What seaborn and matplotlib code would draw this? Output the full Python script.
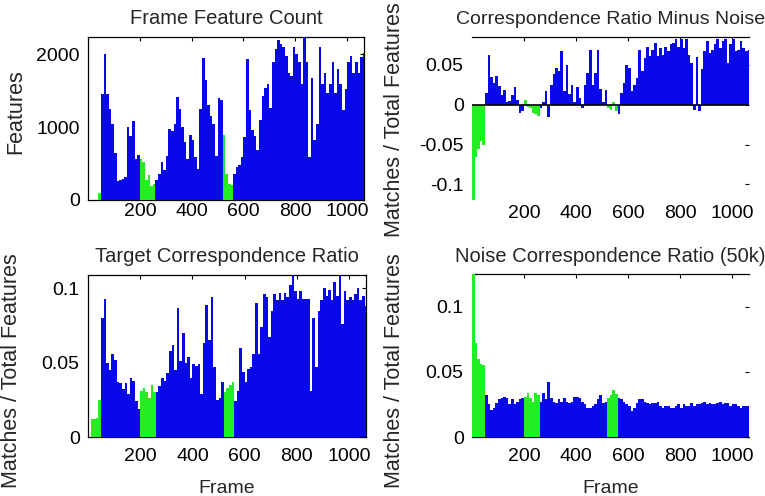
import numpy as np
import pandas as pd
import matplotlib
matplotlib.use("Agg")
import matplotlib.pyplot as plt
import seaborn as sns

# ---------------- data (10-frame bins, value read per bin start) ----------------
frame_bins = list(range(0, 1070, 10))
green_ranges = [(0, 50), (200, 260), (520, 560)]

feature_count = [
    0, 0, 0, 0, 90,
    1450, 2000, 1450, 1250, 1050,
    650, 260, 270, 290, 310,
    1000, 880, 1080, 560, 620,
    560, 520, 270, 340, 190,
    220, 270, 360, 520, 410,
    600, 980, 950, 1050, 1420,
    1250, 1000, 800, 560, 900,
    820, 590, 420, 1250, 1950,
    1650, 1300, 1150, 1050, 600,
    1400, 1380, 890, 360, 220,
    200, 360, 450, 480, 590,
    870, 1935, 1240, 960, 880,
    690, 1100, 1430, 1540, 1600,
    1260, 1890, 2070, 2200, 2150,
    2100, 1980, 1750, 1700, 2100,
    2000, 1890, 1600, 2240, 1890,
    590, 1680, 820, 1050, 2100,
    1600, 1750, 1470, 1600, 1890,
    1470, 1800, 1600, 1240, 1520,
    1890, 1980, 1750, 1890, 1750,
    1960, 2020,
]

ratio_minus_noise = [
    -0.120, -0.066, -0.055, -0.045, -0.050,
    0.015, 0.062, 0.035, 0.027, 0.036,
    0.023, 0.012, 0.019, 0.004, 0.005,
    0.012, 0.022, 0.006, -0.010, -0.008,
    0.006, -0.003, -0.004, -0.010, -0.012,
    -0.014, -0.004, 0.003, 0.017, -0.015,
    0.025, 0.038, 0.046, 0.042, 0.067,
    0.017, 0.050, 0.013, 0.025, 0.004,
    0.022, 0.008, -0.004, 0.025, 0.040,
    0.069, 0.025, 0.040, 0.069, 0.020,
    0.004, 0.019, -0.004, -0.006, 0.004,
    -0.008, -0.012, 0.015, 0.027, 0.050,
    0.046, 0.017, 0.025, 0.034, 0.069,
    0.042, 0.059, 0.073, 0.061, 0.069,
    0.078, 0.061, 0.071, 0.063, 0.073,
    0.067, 0.076, 0.078, 0.083, 0.073,
    0.082, 0.071, 0.083, 0.063, 0.052,
    -0.007, 0.060, -0.008, 0.045, 0.067,
    0.080, 0.065, 0.069, 0.076, 0.083,
    0.071, 0.080, 0.083, 0.052, 0.076,
    0.083, 0.067, 0.069, 0.080, 0.071,
    0.067, 0.069,
]

target_ratio = [
    0.000, 0.012, 0.012, 0.013, 0.025,
    0.080, 0.093, 0.050, 0.045, 0.056,
    0.052, 0.037, 0.036, 0.032, 0.036,
    0.029, 0.040, 0.038, 0.024, 0.019,
    0.031, 0.033, 0.030, 0.026, 0.035,
    0.030, 0.030, 0.034, 0.040, 0.038,
    0.043, 0.058, 0.062, 0.045, 0.087,
    0.051, 0.070, 0.050, 0.054, 0.040,
    0.049, 0.048, 0.049, 0.029, 0.063,
    0.089, 0.065, 0.094, 0.047, 0.025,
    0.026, 0.037, 0.030, 0.033, 0.035,
    0.037, 0.024, 0.031, 0.060, 0.044,
    0.037, 0.046, 0.047, 0.056, 0.090,
    0.056, 0.074, 0.096, 0.094, 0.067,
    0.085, 0.096, 0.092, 0.097, 0.092,
    0.097, 0.094, 0.102, 0.109, 0.098,
    0.093, 0.098, 0.093, 0.093, 0.093,
    0.031, 0.080, 0.047, 0.085, 0.092,
    0.100, 0.095, 0.099, 0.092, 0.104,
    0.095, 0.109, 0.076, 0.098, 0.092,
    0.094, 0.092, 0.096, 0.100, 0.092,
    0.095, 0.088,
]

noise_ratio = [
    0.125, 0.072, 0.060, 0.056, 0.055,
    0.032, 0.025, 0.021, 0.022, 0.026,
    0.029, 0.030, 0.031, 0.030, 0.025,
    0.029, 0.025, 0.027, 0.029, 0.030,
    0.031, 0.034, 0.030, 0.027, 0.034,
    0.032, 0.027, 0.034, 0.029, 0.042,
    0.030, 0.027, 0.026, 0.029, 0.027,
    0.030, 0.027, 0.026, 0.027, 0.031,
    0.031, 0.030, 0.027, 0.025, 0.022,
    0.022, 0.024, 0.025, 0.029, 0.032,
    0.026, 0.027, 0.030, 0.032, 0.036,
    0.033, 0.030, 0.029, 0.027, 0.025,
    0.024, 0.020, 0.022, 0.026, 0.029,
    0.029, 0.027, 0.026, 0.025, 0.026,
    0.026, 0.027, 0.024, 0.022, 0.024,
    0.024, 0.022, 0.022, 0.024, 0.025,
    0.022, 0.025, 0.024, 0.024, 0.026,
    0.024, 0.025, 0.025, 0.026, 0.027,
    0.025, 0.026, 0.025, 0.025, 0.026,
    0.027, 0.025, 0.026, 0.026, 0.024,
    0.025, 0.025, 0.024, 0.022, 0.024,
    0.024, 0.024,
]

titles = ["Frame Feature Count", "Correspondence Ratio Minus Noise",
          "Target Correspondence Ratio", "Noise Correspondence Ratio (50k)"]
ylabels = ["Features", "Matches / Total Features",
           "Matches / Total Features", "Matches / Total Features"]
x_ticks = [200, 400, 600, 800, 1000]
x_ticklabels = ["200", "400", "600", "800", "1000"]
y_ticks = [[0, 1000, 2000], [-0.1, -0.05, 0, 0.05], [0, 0.05, 0.1], [0, 0.05, 0.1]]
y_ticklabels = [["0", "1000", "2000"], ["-0.1", "-0.05", "0", "0.05"],
                ["0", "0.05", "0.1"], ["0", "0.05", "0.1"]]

# ---------------- styling ----------------
sns.set_style("white")
plt.rcParams["font.family"] = ["Liberation Sans", "DejaVu Sans"]

BLUE = "#0808e8"
GREEN = "#22ee22"

def segment(f):
    for a, b in green_ranges:
        if a <= f < b:
            return "target"
    return "other"

bin_width = frame_bins[1] - frame_bins[0]

fig = plt.figure(figsize=(7.65, 4.96), dpi=100)
W, H = 765.0, 496.0
# (left, top, right, bottom) in pixels
boxes = [(88, 37, 364, 200), (472, 37, 749, 202), (88, 275, 366, 437), (472, 274, 749, 437)]
series = [feature_count, ratio_minus_noise, target_ratio, noise_ratio]
ylims = [(0, 2240), (-0.122, 0.085), (0, 0.109), (0, 0.1253)]
label_y = [0.543, 0.5, 0.407, 0.405]
title_sizes = [14.5, 14, 14.5, 14.5]

for i, (box, vals) in enumerate(zip(boxes, series)):
    l, t, r, b = box
    ax = fig.add_axes([l / W, (H - b) / H, (r - l) / W, (b - t) / H])
    df = pd.DataFrame({
        "frame": [f + bin_width / 2 for f in frame_bins],
        "value": vals,
        "segment": [segment(f) for f in frame_bins],
    })
    sns.barplot(data=df, x="frame", y="value", hue="segment",
                palette={"target": GREEN, "other": BLUE}, saturation=1,
                native_scale=True, width=1.0, dodge=False, errorbar=None,
                legend=False, linewidth=0, ax=ax)
    for p in ax.patches:
        # each bar fills its whole 10-frame bin (no gaps, like MATLAB bar(...,1))
        cx = p.get_x() + p.get_width() / 2
        p.set_x(cx - bin_width / 2)
        p.set_width(bin_width)
        p.set_linewidth(0)
        p.set_antialiased(False)
    ax.set_xlim(0, 1065)
    ax.set_ylim(*ylims[i])
    ax.set_xticks(x_ticks)
    ax.set_xticklabels(x_ticklabels)
    ax.set_yticks(y_ticks[i])
    ax.set_yticklabels(y_ticklabels[i])
    ax.tick_params(direction="in", length=3, width=0.8, top=True, right=True,
                   labelsize=14, colors="black")
    ax.tick_params(axis="x", pad=2 if i < 2 else 8)
    ax.tick_params(axis="y", pad=6)
    for s in ax.spines.values():
        s.set_zorder(0.5)
        s.set_linewidth(0.9)
        s.set_color("black")
    if i == 1:
        ax.axhline(0, color="black", lw=1.2, zorder=3)
        for k in ("left", "right", "bottom"):
            ax.spines[k].set_visible(False)
    if i == 3:
        for k in ("left", "right"):
            ax.spines[k].set_visible(False)
    ax.set_title(titles[i], fontsize=title_sizes[i], pad=9)
    ax.set_ylabel(ylabels[i], fontsize=15.5)
    if i == 0:
        lx = -62.0 / (r - l)
    elif i == 2:
        lx = -66.0 / (r - l)
    else:
        lx = -67.0 / (r - l)
    ax.yaxis.set_label_coords(lx, label_y[i])
    if i >= 2:
        ax.set_xlabel("Frame", fontsize=14, labelpad=11)
    else:
        ax.set_xlabel("")

fig.savefig("out.png", dpi=100)
